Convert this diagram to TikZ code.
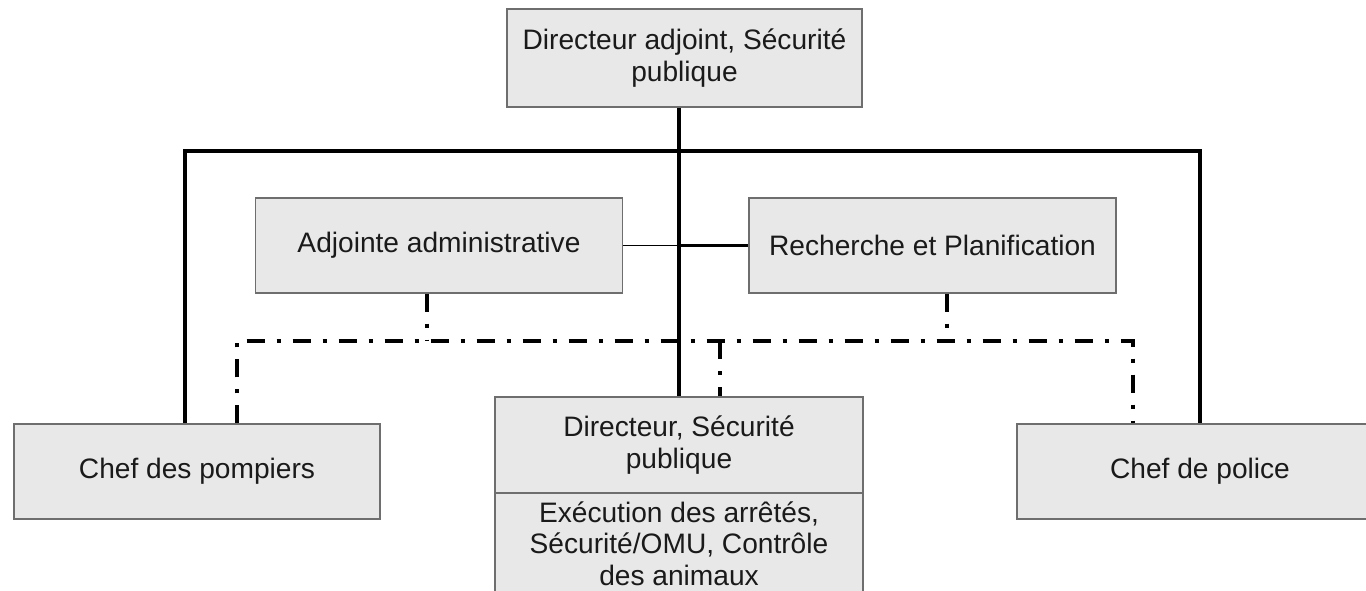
\documentclass[tikz,border=0pt]{standalone}
\usepackage{fontspec}
\setmainfont{Liberation Sans}
\definecolor{boxfill}{HTML}{E8E8E8}
\definecolor{boxline}{HTML}{6E6E6E}
\definecolor{txt}{HTML}{1A1A1A}
\tikzset{
  orgbox/.style={draw=boxline, line width=1.1pt, fill=boxfill, text=txt, align=center,
    inner sep=0pt, font=\fontsize{21.1pt}{23.5pt}\selectfont},
  heavy/.style={line width=3pt, black},
  thinl/.style={line width=1.1pt, black},
  dashdot/.style={line width=3pt, black, dash pattern=on 13.5pt off 9pt on 3pt off 9pt}
}
\begin{document}
\begin{tikzpicture}[x=0.75pt, y=-0.75pt]
\clip (0,0) rectangle (1366,591);
\fill[white] (0,0) rectangle (1366,591);
% boxes
\node[orgbox, minimum width=266.25pt, minimum height=73.5pt] (top) at (684.5,58) {Directeur adjoint, Sécurité\\publique};
\node[orgbox, minimum width=275.25pt, minimum height=71.25pt] (adj) at (439,245.5) {Adjointe administrative};
\node[orgbox, minimum width=275.25pt, minimum height=71.25pt] (rech) at (932.5,245.5) {Recherche et Planification};
\node[orgbox, minimum width=274.5pt, minimum height=71.25pt] (pomp) at (197,471.5) {Chef des pompiers};
\node[orgbox, minimum width=274.5pt, minimum height=71.25pt] (police) at (1200,471.5) {Chef de police};
\node[orgbox, minimum width=276pt, minimum height=75.75pt] (dirlow) at (679,543.5) {Exécution des arrêtés,\\Sécurité/OMU, Contrôle\\des animaux};
\node[orgbox, minimum width=276pt, minimum height=72pt] (dir) at (679,445) {Directeur, Sécurité\\publique};
% helper coordinates
\coordinate (hl) at (185,151);
\coordinate (hr) at (1200,151);
\coordinate (dl) at (237,341);
\coordinate (dr) at (1133,341);
\coordinate (a1) at (427,341);
\coordinate (r1) at (947,341);
\coordinate (d1) at (720,341);
% solid connectors
\draw[heavy] (top.south -| dir.north) -- (dir.north);
\draw[heavy, line cap=rect] (hl) -- (hr);
\draw[heavy] (hl) -- (hl |- pomp.north);
\draw[heavy] (hr) -- (hr |- police.north);
\draw[thinl] (adj.east) -- (adj.east -| dir.north);
\draw[line width=2.2pt] (adj.east -| dir.north) -- (rech.west);
% dash-dot connectors
\draw[dashdot] (dl |- pomp.north) -- (dl) -- (dr) -- (dr |- police.north);
\draw[dashdot] (a1 |- adj.south) -- (a1);
\draw[dashdot] (r1 |- rech.south) -- (r1);
\draw[dashdot] (d1) -- (d1 |- dir.north);
\end{tikzpicture}
\end{document}
